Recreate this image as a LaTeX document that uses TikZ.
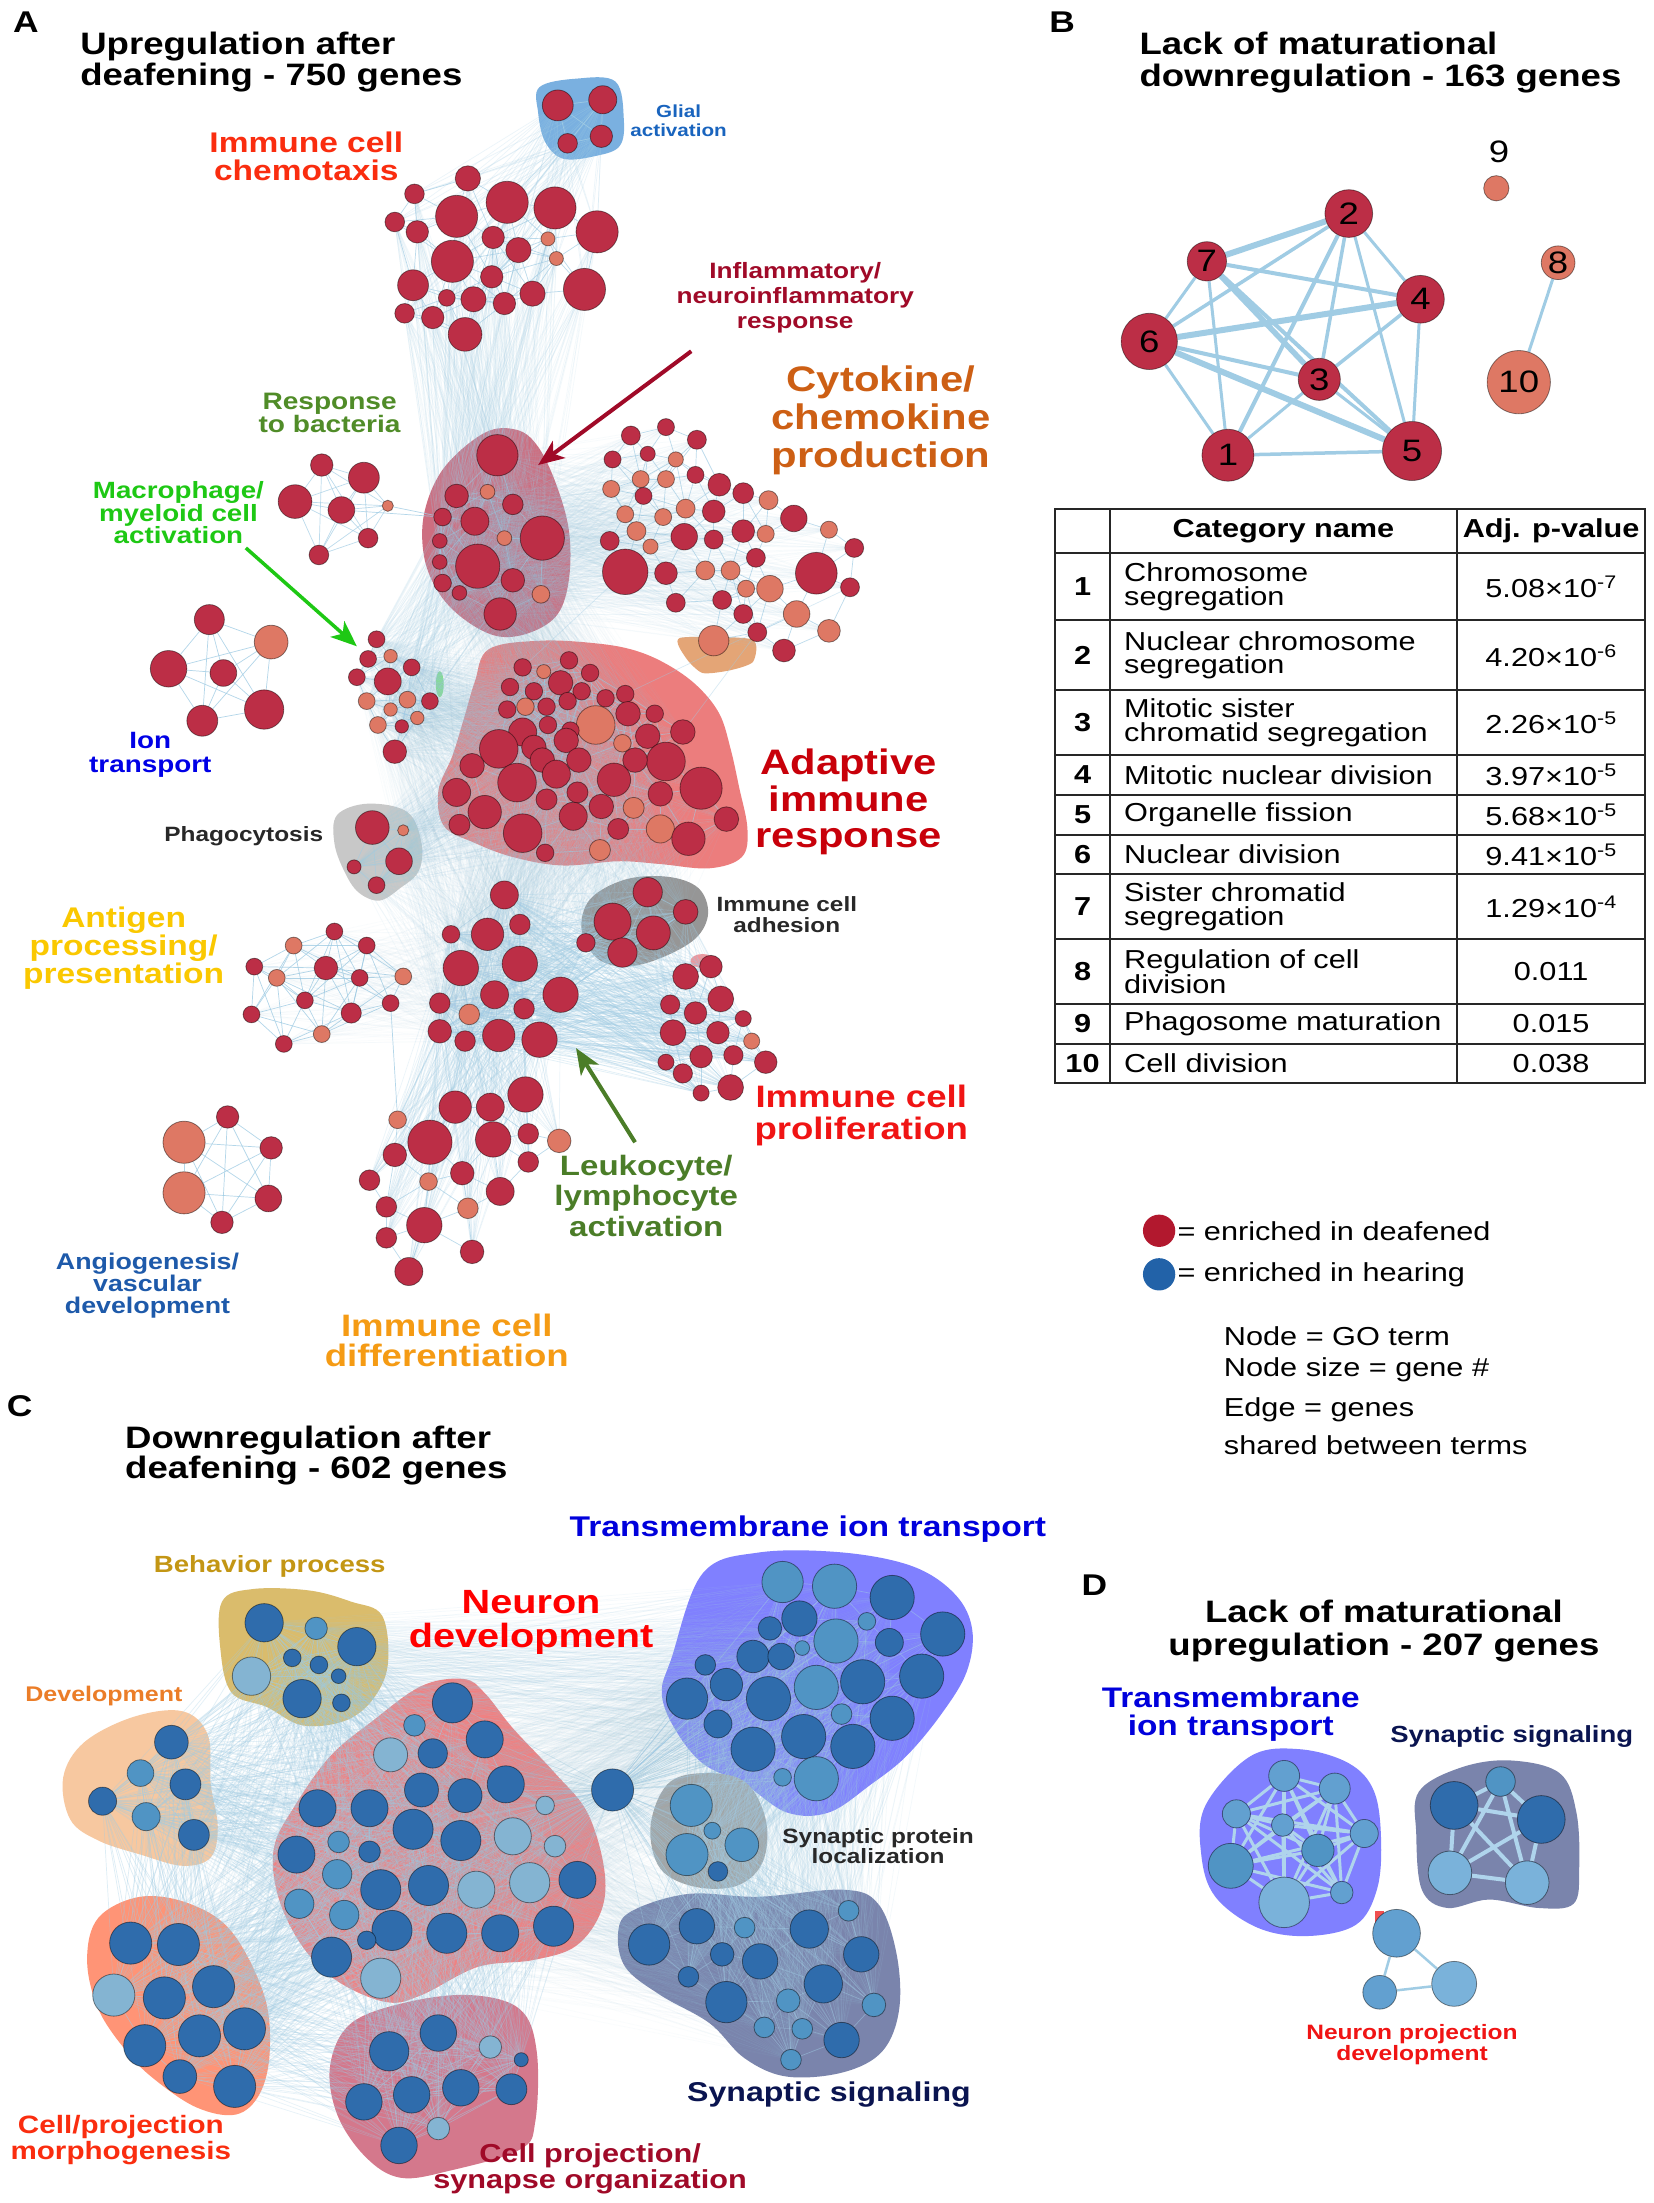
\documentclass[tikz,border=0pt]{standalone}
\usepackage{fontspec}
\setmainfont{Liberation Sans}[FakeStretch=1.18]
\usetikzlibrary{arrows.meta}
\pgfdeclarelayer{blob}
\pgfdeclarelayer{edges}
\pgfsetlayers{blob,edges,main}
% node colours
\definecolor{nR}{RGB}{188,46,70}
\definecolor{nS}{RGB}{222,120,100}
\definecolor{nD}{RGB}{47,108,172}
\definecolor{nM}{RGB}{80,148,196}
\definecolor{nL}{RGB}{132,180,210}
\definecolor{nP}{RGB}{98,160,208}
\definecolor{nQ}{RGB}{122,178,218}
\definecolor{eb}{RGB}{160,204,228}
\definecolor{ebD}{RGB}{175,212,236}
% blob colours
\definecolor{bGlial}{RGB}{122,176,224}
\definecolor{bInfl}{RGB}{205,110,128}
\definecolor{bAdapt}{RGB}{236,125,125}
\definecolor{bPhago}{RGB}{200,200,200}
\definecolor{bAdh}{RGB}{150,150,150}
\definecolor{bCyto}{RGB}{228,165,118}
\definecolor{bMac}{RGB}{130,230,130}
\definecolor{bProl}{RGB}{240,150,155}
\definecolor{bBeh}{RGB}{218,188,108}
\definecolor{bDev}{RGB}{247,200,160}
\definecolor{bNeur}{RGB}{242,128,128}
\definecolor{bMorph}{RGB}{255,148,118}
\definecolor{bSyno}{RGB}{212,120,140}
\definecolor{bTm}{RGB}{128,128,255}
\definecolor{bSp}{RGB}{165,165,165}
\definecolor{bSs}{RGB}{122,132,172}
\definecolor{bRed}{RGB}{240,80,80}
% text colours
\definecolor{tGlial}{RGB}{25,100,190}
\definecolor{tChem}{RGB}{250,45,15}
\definecolor{tInfl}{RGB}{160,10,40}
\definecolor{tCyto}{RGB}{205,95,20}
\definecolor{tBact}{RGB}{80,140,40}
\definecolor{tMac}{RGB}{30,200,20}
\definecolor{tIon}{RGB}{0,0,230}
\definecolor{tAdapt}{RGB}{200,0,10}
\definecolor{tGray}{RGB}{40,40,40}
\definecolor{tAnti}{RGB}{250,200,0}
\definecolor{tProl}{RGB}{240,20,20}
\definecolor{tLeuk}{RGB}{75,125,40}
\definecolor{tAngio}{RGB}{30,90,170}
\definecolor{tDiff}{RGB}{245,155,20}
\definecolor{tTm}{RGB}{0,0,220}
\definecolor{tBeh}{RGB}{195,150,20}
\definecolor{tNeur}{RGB}{255,0,0}
\definecolor{tDev}{RGB}{235,125,40}
\definecolor{tSs}{RGB}{10,20,80}
\definecolor{tNp}{RGB}{240,20,20}
\definecolor{legR}{RGB}{178,24,46}
\definecolor{legB}{RGB}{34,98,168}
\newcommand\fs[2]{\fontsize{#1}{#2}\selectfont}
\tikzset{
  gn/.style={circle, inner sep=0pt, draw=black, draw opacity=0.45, line width=0.8pt},
  ed/.style={draw=eb, line width=0.7pt, opacity=#1}, ed/.default=0.6,
  edD/.style={draw=ebD, line width=#1}, edD/.default=3pt,
  be/.style={draw=eb, line width=#1},
  lab/.style={align=center, inner sep=0pt},
  ttl/.style={anchor=base west, inner sep=0pt, font=\bfseries\fs{31}{30}},
  tl/.style={line width=2pt, draw=black!85},
  tc/.style={inner sep=0pt, font=\fs{26}{23.5}},
  arr/.style={line width=#1, -{Stealth[length=26pt,width=21pt,inset=7pt]}},
}
% cluster of nodes: [radius factor] prefix, list x/y/r/colour
\newcommand\clus[3][1]{\foreach \x/\y/\r/\c [count=\k] in #3 {%
  \node[gn, fill=n\c, minimum size=\r*2.81*#1pt] (#2\k) at (\x,\y) {};
  \expandafter\xdef\csname cnt#2\endcsname{\k}}}
% edges between near nodes of one cluster
\newcommand\meshnear[4]{%
 \foreach \xa/\ya/\ra/\ca [count=\i] in #2 {%
  \foreach \xb/\yb/\rb/\cb [count=\j] in #2 {%
   \ifnum\i<\j\relax
    \pgfmathsetmacro\dd{veclen(\xa-\xb,\ya-\yb)}%
    \ifdim\dd pt<#3pt\relax \draw[#4] (#1\i) -- (#1\j);\fi
   \fi}}}
% edges between all nodes of two clusters
\newcommand\meshbt[3]{%
 \edef\nA{\csname cnt#1\endcsname}\edef\nB{\csname cnt#2\endcsname}%
 \foreach \i in {1,...,\nA}{\foreach \j in {1,...,\nB}{\draw[#3] (#1\i) -- (#2\j);}}}
% ---------------- lists ----------------
\def\Lgl{397/75/11/R,429/71/10/R,404/102/7/R,428/97/8/R}
\def\Lch{333/127/9/R,295/138/7/R,325/154/15/R,361/144/15/R,395/148/15/R,425/165/15/R,281/158/7/R,297/165/8/R,351/169/8/R,390/170/5/S,369/178/9/R,396/184/5/S,322/186/15/R,350/197/8/R,294/203/11/R,318/212/6/R,337/213/9/R,359/216/8/R,379/209/9/R,416/206/15/R,288/223/7/R,308/226/8/R,331/238/12/R}
\def\Lba{229/331/8/R,259/340/11/R,210/357/12/R,243/363/9.5/R,276/360/4/S,262/383/7/R,227/395/7/R}
\def\Lin{354/324/14/R,325/353/8/R,347/350/5/S,365/359/7/R,315/368/6/R,338/371/9.5/R,386/383/15/R,359/383/5/S,313/385/5/R,340/403/15/R,313/400/5/R,315/415/6/R,365/413/8/R,385/423/6/S,327/422/5/R,356/437/11/R}
\def\Lcy{449/310/5/R,474/304/4.5/R,496/313/5/R,436/327/4.5/R,461/323/4/R,481/327/4/S,495/338/4.5/R,456/341/4.5/S,474/341/4.5/S,435/348/4.5/S,458/353/4.5/R,512/345/6/R,529/351/5.5/R,547/356/5/S,488/362/5/S,508/364/6/R,565/369/7/R,445/366/4.5/S,472/368/4.5/S,453/378/5/S,487/382/7/R,508/384/5/R,529/378/6/R,545/380/4.5/S,590/377/4.5/S,608/390/5/R,434/385/5/R,463/389/4/S,538/397/5/R,445/407/12/R,474/408/6/R,502/406/5/S,520/406/5/S,581/408/11/R,548/419/7/S,531/419/4.5/S,605/418/5/R,481/429/5/R,514/427/5/R,529/437/5/R,567/437/7/S,590/449/6/S,539/450/5/R,508/456/8/S,558/463/6/R}
\def\Lma{268/455/5/R,262/469/5/R,278/467/4/S,293/475/5/R,254/482/5/R,276/485/8/R,261/499/5/S,290/498/5/S,306/499/5/R,278/505/4/S,297/511/4/S,269/516/5/S,286/517/4/R,281/535/7/R}
\def\Lio{149/441/10.7/R,193/457/12/S,120/476/13/R,159/479/9.5/R,188/505/14/R,144/513/11/R}
\def\Lad{372/475/5/R,387/478/4/S,405/470/5/R,420/479/5/R,363/489/5/R,380/492/5/R,399/486/7/R,414/492/5/R,431/497/5/R,445/494/5/R,361/505/5/R,374/503/5/S,389/503/5/R,404/499/5/R,447/508/7/R,466/508/5/R,424/516/11/S,372/521/8/R,390/516/5/R,406/520/5/R,486/521/7/R,355/533/11/R,380/532/7/R,403/527/7/R,443/529/5/S,461/524/7/R,474/542/11/R,336/545/7/R,386/541/7/R,412/541/7/R,452/541/7/R,437/555/9.5/R,368/557/11/R,396/551/8/R,325/564/8/R,345/578/9.5/R,411/564/6/R,499/561/12/R,451/575/6/S,470/565/7/R,428/574/7/R,389/569/6/R,408/581/8/R,372/593/11/R,327/587/6/R,388/607/5/R,427/605/6/S,440/590/6/R,470/590/8/S,490/597/9.5/R,517/583/7/R}
\def\Lph{265/589/12/R,287/591/4/S,252/617/5/R,284/613/9.5/R,268/630/6/R}
\def\Lah{461/635/9.5/R,488/649/8/R,436/656/12/R,465/664/11/R,417/671/6/R,443/678/9.5/R}
\def\Lle{359/637/9.5/R,347/665/11/R,370/658/7/R,321/665/6/R,328/689/12/R,370/686/12/R,352/708/9.5/R,399/708/12/R,373/718/7/R,313/714/7/R,334/722/7/S,313/734/8/R,331/741/7/R,355/737/11/R,384/740/12/R}
\def\Lpr{488/695/8/R,506/688/7/R,513/711/8/R,477/715/6/R,495/721/7/R,529/725/5/R,479/735/8/R,511/735/7/R,535/741/5/S,522/751/6/R,499/752/7/R,474/756/5/R,545/756/7/R,486/764/6/R,520/774/8/R,499/778/5/R}
\def\Lan{238/663/5/R,209/673/5/S,261/673/5/R,181/688/5/R,232/689/7/R,197/696/5/S,256/696/5/R,287/695/5/S,217/712/5/R,278/714/5/R,179/722/5/R,250/721/6/R,229/736/5/S,202/743/5/R}
\def\Lag{162/795/8/R,131/813/15/S,193/817/8/R,131/849/15/S,191/853/9.5/R,158/870/8/R}
\def\Ldi{324/788/11/R,349/788/9.5/R,374/779/12/R,283/797/6/S,306/813/15/R,351/811/12/R,376/807/7/R,398/812/8/S,281/822/8/R,376/827/7/R,329/835/8/R,263/840/7/R,305/841/6/S,356/848/9.5/R,275/859/7/R,333/860/7/S,302/872/12/R,275/881/7/R,336/891/8/R,291/905/9.5/R}
% panel C
\def\Lbh{188/1155/13/D,225/1159/7.6/M,254/1172/13/D,179/1193/13/L,208/1180/6/D,227/1185/6/D,241/1193/5/D,215/1209/13/D,243/1212/6/D}
\def\Ldv{122/1240/12/D,100/1262/9.5/M,132/1270/11/D,73/1282/10/D,104/1293/10/M,138/1306/11/D}
\def\Lnd{322/1212/13/D,295/1228/7/M,345/1238/12/D,308/1248/9.5/D,278/1249/11/L,360/1270/12/D,226/1287/12/D,263/1287/12/D,300/1274/11/D,331/1278/11/D,388/1285/6/L,211/1320/12/D,241/1311/7/M,263/1318/7/D,294/1302/13/D,328/1310/13/D,365/1307/12/L,395/1314/7/L,240/1334/9.5/M,271/1345/13/D,305/1342/13/D,339/1345/12/L,377/1340/13/L,411/1338/12/D,213/1355/9.5/M,245/1363/9.5/M,279/1374/13/D,318/1376/13/D,356/1376/12/D,394/1371/13/D,261/1381/6/D,236/1393/13/D,271/1408/13/L}
\def\Lmo{93/1383/15/D,127/1384/15/D,81/1420/15/L,117/1422/15/D,152/1414/15/D,103/1456/15/D,142/1449/15/D,174/1444/15/D,128/1478/12/D,167/1485/15/D}
\def\Lso{277/1460/14/D,312/1447/13/D,349/1457/8/L,371/1466/5/D,259/1496/13/D,293/1491/13/D,328/1486/13/D,364/1487/11/D,312/1515/8/L,284/1527/13/D}
\def\Ltm{557/1126/14/M,594/1129/15/M,635/1137/15/D,671/1163/15/D,569/1152/12/D,548/1159/8/D,617/1154/6/M,595/1168/15/M,633/1169/9.5/D,571/1173/5/M,536/1179/11/D,556/1179/9/D,502/1185/7/D,656/1193/15/D,517/1199/11/D,547/1209/15/D,581/1201/15/M,614/1197/15/D,489/1209/14/D,599/1220/7/M,635/1223/15/D,511/1227/9.5/D,536/1245/15/D,572/1236/15/D,607/1243/15/D,557/1265/6/M,581/1266/15/M}
\def\Llo{436/1274/15/D}
\def\Lsp{492/1285/15/M,507/1303/6/M,489/1320/15/M,528/1313/12/M,511/1332/7/D}
\def\Lss{462/1384/14/D,496/1371/12/D,530/1372/7/M,576/1373/13/D,604/1360/7/M,514/1391/8/D,541/1396/12/D,613/1391/12/D,490/1407/7/D,586/1412/13/D,517/1425/14/D,561/1424/8/M,622/1427/8/M,544/1443/7/M,571/1444/7/M,599/1452/12/D,563/1466/7/M}
% panel D
\def\Ltd{914/1264/11/P,950/1273/11/P,880/1291/10/P,913/1299/8/P,971/1305/10/P,938/1317/11.5/M,876/1328/16/M,914/1354/18/Q,955/1347/8/P}
\def\Lsd{1068/1268/10.5/M,1035/1285/17/D,1097/1295/17/D,1032/1333/15.5/Q,1087/1340/15.5/Q}
\def\Lnp{994/1376/17/P,982/1418/12/P,1035/1412/16/Q}

\begin{document}
\begin{tikzpicture}[x=1.405pt,y=-1.405pt]
\useasboundingbox (0,0) rectangle (1177,1568);
% ---------------- blobs ----------------
\begin{pgfonlayer}{blob}
\fill[white] (0,0) rectangle (1177,1568);
\fill[bGlial] plot[smooth cycle,tension=0.6] coordinates {(384,62) (410,56) (438,58) (444,85) (441,104) (424,111) (401,113) (388,101) (383,80)};
\fill[bInfl] plot[smooth cycle,tension=0.6] coordinates {(345,308) (368,306) (383,318) (396,345) (405,378) (405,412) (397,437) (378,450) (355,453) (332,442) (313,423) (302,397) (302,365) (316,333)};
\fill[bAdapt] plot[smooth cycle,tension=0.6] coordinates {(348,462) (385,456) (425,458) (452,463) (475,473) (496,488) (512,508) (520,533) (526,560) (532,590) (528,610) (505,618) (470,615) (440,613) (400,616) (365,610) (338,600) (316,588) (312,563) (322,538) (330,512) (338,485)};
\fill[bPhago] plot[smooth cycle,tension=0.6] coordinates {(240,580) (262,572) (290,578) (300,600) (298,620) (285,632) (270,641) (255,635) (245,620) (238,600)};
\fill[bAdh] plot[smooth cycle,tension=0.6] coordinates {(420,640) (445,626) (475,624) (497,632) (504,650) (495,668) (470,682) (445,688) (425,682) (414,662)};
\fill[bCyto] plot[smooth cycle,tension=0.4] coordinates {(484,454) (535,455) (536,471) (520,477) (500,479) (488,468)};
\fill[bMac] (313,487) ellipse [x radius=4pt, y radius=13pt];
\fill[bProl] (500,684) ellipse [x radius=12pt, y radius=7pt];
% C
\fill[bBeh] plot[smooth cycle,tension=0.6] coordinates {(158,1140) (180,1131) (220,1132) (250,1140) (272,1150) (276,1185) (265,1210) (245,1225) (215,1228) (190,1215) (165,1205) (157,1175)};
\fill[bDev] plot[smooth cycle,tension=0.6] coordinates {(60,1240) (95,1222) (130,1218) (148,1235) (150,1270) (155,1300) (150,1322) (130,1328) (100,1320) (70,1310) (50,1295) (45,1265)};
\fill[bNeur] plot[smooth cycle,tension=0.6] coordinates {(265,1225) (300,1200) (330,1195) (345,1205) (365,1230) (395,1262) (418,1290) (430,1330) (428,1360) (410,1385) (380,1395) (340,1400) (300,1420) (275,1425) (240,1410) (215,1385) (198,1350) (195,1315) (210,1285) (235,1250)};
\fill[bMorph] plot[smooth cycle,tension=0.6] coordinates {(70,1365) (100,1350) (135,1355) (165,1375) (188,1420) (192,1460) (185,1490) (168,1505) (140,1500) (110,1480) (90,1460) (70,1430) (62,1395)};
\fill[bSyno] plot[smooth cycle,tension=0.6] coordinates {(250,1440) (290,1425) (335,1420) (370,1430) (382,1460) (381,1510) (370,1530) (320,1545) (285,1550) (260,1535) (240,1505) (235,1470)};
\fill[bTm] plot[smooth cycle,tension=0.6] coordinates {(500,1120) (540,1105) (600,1105) (650,1115) (680,1135) (692,1160) (688,1190) (670,1220) (645,1250) (620,1270) (590,1290) (560,1290) (530,1270) (500,1255) (480,1230) (471,1205) (478,1180)};
\fill[bSp] plot[smooth cycle,tension=0.6] coordinates {(475,1270) (500,1262) (530,1268) (545,1295) (543,1325) (525,1342) (495,1343) (470,1330) (463,1300)};
\fill[bSs] plot[smooth cycle,tension=0.6] coordinates {(450,1360) (490,1348) (540,1350) (600,1345) (625,1355) (638,1390) (640,1430) (628,1460) (600,1475) (560,1478) (530,1465) (505,1440) (470,1420) (445,1400) (440,1375)};
% D
\fill[bTm] plot[smooth cycle,tension=0.6] coordinates {(890,1250) (925,1245) (960,1255) (978,1275) (983,1310) (980,1345) (965,1370) (930,1378) (895,1372) (865,1350) (855,1320) (858,1285)};
\fill[bSs] plot[smooth cycle,tension=0.6] coordinates {(1010,1275) (1040,1258) (1075,1253) (1110,1262) (1122,1290) (1124,1330) (1120,1355) (1095,1358) (1060,1352) (1030,1358) (1012,1345) (1008,1305)};
\fill[bRed] (979,1360) rectangle (985,1378);
\end{pgfonlayer}
% ---------------- nodes ----------------
\clus{gl}{\Lgl}\clus{ch}{\Lch}\clus{ba}{\Lba}\clus[1.05]{in}{\Lin}\clus[1.35]{cy}{\Lcy}
\clus[1.2]{ma}{\Lma}\clus{io}{\Lio}\clus[1.25]{ad}{\Lad}\clus{ph}{\Lph}\clus[1.1]{ah}{\Lah}
\clus[1.05]{le}{\Lle}\clus[1.15]{pr}{\Lpr}\clus[1.2]{an}{\Lan}\clus{ag}{\Lag}\clus[1.05]{di}{\Ldi}
\clus[1.05]{bh}{\Lbh}\clus{dv}{\Ldv}\clus[1.1]{nd}{\Lnd}\clus{mo}{\Lmo}\clus{so}{\Lso}
\clus[1.05]{tm}{\Ltm}\clus{lo}{\Llo}\clus{sp}{\Lsp}\clus[1.05]{ss}{\Lss}
\clus{td}{\Ltd}\clus{sd}{\Lsd}\clus{np}{\Lnp}
% panel B nodes
\begin{scope}[every node/.append style={font=\fs{31}{31}}]
\node[gn, fill=nR, minimum size=18.5*2.81pt] (b1) at (874,324) {1};
\node[gn, fill=nR, minimum size=17*2.81pt] (b2) at (960,152) {2};
\node[gn, fill=nR, minimum size=15*2.81pt] (b3) at (939,270) {3};
\node[gn, fill=nR, minimum size=17*2.81pt] (b4) at (1011,213) {4};
\node[gn, fill=nR, minimum size=21*2.81pt] (b5) at (1005,321) {5};
\node[gn, fill=nR, minimum size=20*2.81pt] (b6) at (818,243) {6};
\node[gn, fill=nR, minimum size=14*2.81pt] (b7) at (859,186) {7};
\node[gn, fill=nS, minimum size=12*2.81pt] (b8) at (1109,187) {8};
\node[gn, fill=nS, minimum size=9*2.81pt] (b9) at (1065,134) {};
\node[gn, fill=nS, minimum size=22.5*2.81pt] (b10) at (1081,272) {10};
\node[inner sep=0pt] (b9lab) at (1067,108) {9};
\end{scope}
% ---------------- edges ----------------
\begin{pgfonlayer}{edges}
\meshnear{gl}{\Lgl}{1000}{ed=0.9}
\meshnear{ch}{\Lch}{50}{ed=0.7}
\meshnear{ba}{\Lba}{1000}{ed=0.7}
\meshnear{in}{\Lin}{45}{ed=0.6}
\meshnear{cy}{\Lcy}{36}{ed=0.7}
\meshnear{ma}{\Lma}{30}{ed=0.7}
\meshnear{io}{\Lio}{1000}{ed=0.8}
\meshnear{ad}{\Lad}{40}{ed=0.6}
\meshnear{ph}{\Lph}{1000}{ed=0.6}
\meshnear{ah}{\Lah}{1000}{ed=0.6}
\meshnear{le}{\Lle}{50}{ed=0.6}
\meshnear{pr}{\Lpr}{35}{ed=0.7}
\meshnear{an}{\Lan}{60}{ed=0.8}
\meshnear{ag}{\Lag}{1000}{ed=0.8}
\meshnear{di}{\Ldi}{40}{ed=0.7}
\meshbt{gl}{ch}{ed=0.2}
\meshbt{ch}{in}{ed=0.12}
\meshbt{in}{cy}{ed=0.08}
\meshbt{in}{ma}{ed=0.12}
\meshbt{in}{ad}{ed=0.05}
\meshbt{ma}{ad}{ed=0.08}
\meshbt{ad}{le}{ed=0.07}
\meshbt{ad}{ph}{ed=0.1}
\meshbt{ad}{ah}{ed=0.08}
\meshbt{le}{pr}{ed=0.3}
\meshbt{ah}{le}{ed=0.3}
\meshbt{ah}{pr}{ed=0.2}
\meshbt{le}{di}{ed=0.2}
\meshbt{an}{le}{ed=0.05}
\meshbt{ph}{le}{ed=0.1}
\meshbt{ma}{le}{ed=0.06}
\draw[ed=0.8] (ba5)--(in5); \draw[ed=0.8] (ba4)--(in5);
\draw[ed=0.8] (an10)--(di4);
\draw[ed=0.4] (cy30)--(ad1); \draw[ed=0.4] (cy37)--(ad10); \draw[ed=0.4] (cy43)--(ad21);
% C
\meshnear{bh}{\Lbh}{1000}{ed=0.6}
\meshnear{dv}{\Ldv}{1000}{ed=0.6}
\meshnear{nd}{\Lnd}{45}{ed=0.6}
\meshnear{mo}{\Lmo}{45}{ed=0.6}
\meshnear{so}{\Lso}{1000}{ed=0.5}
\meshnear{tm}{\Ltm}{50}{ed=0.5}
\meshnear{sp}{\Lsp}{1000}{ed=0.6}
\meshnear{ss}{\Lss}{50}{ed=0.5}
\meshbt{bh}{nd}{ed=0.2}
\meshbt{dv}{nd}{ed=0.25}
\meshbt{mo}{nd}{ed=0.22}
\meshbt{mo}{dv}{ed=0.35}
\meshbt{so}{nd}{ed=0.22}
\meshbt{so}{mo}{ed=0.25}
\meshbt{bh}{dv}{ed=0.3}
\meshbt{bh}{mo}{ed=0.15}
\meshbt{lo}{tm}{ed=0.5}
\meshbt{lo}{sp}{ed=0.5}
\meshbt{lo}{ss}{ed=0.4}
\meshbt{lo}{nd}{ed=0.4}
\meshbt{tm}{sp}{ed=0.25}
\meshbt{tm}{ss}{ed=0.12}
\meshbt{sp}{ss}{ed=0.3}
\meshbt{bh}{tm}{ed=0.1}
\meshbt{nd}{ss}{ed=0.05}
\meshbt{nd}{tm}{ed=0.05}
% D
\meshnear{td}{\Ltd}{1000}{edD=3pt}
\meshnear{sd}{\Lsd}{1000}{edD=4pt}
\meshnear{np}{\Lnp}{1000}{be=2.5pt}
% B
\draw[be=6pt] (b7)--(b2); \draw[be=4pt] (b7)--(b4); \draw[be=3pt] (b7)--(b6);
\draw[be=3pt] (b7)--(b1); \draw[be=5.5pt] (b7)--(b3); \draw[be=4pt] (b7)--(b5);
\draw[be=3.5pt] (b2)--(b6); \draw[be=4pt] (b2)--(b1); \draw[be=3.5pt] (b2)--(b3);
\draw[be=3pt] (b2)--(b4); \draw[be=3pt] (b2)--(b5);
\draw[be=6pt] (b4)--(b6); \draw[be=3.5pt] (b4)--(b3); \draw[be=3pt] (b4)--(b5);
\draw[be=4pt] (b6)--(b3); \draw[be=6pt] (b6)--(b5); \draw[be=3pt] (b6)--(b1);
\draw[be=3pt] (b1)--(b3); \draw[be=3.5pt] (b1)--(b5); \draw[be=3pt] (b3)--(b5);
\draw[be=3pt] (b8)--(b10);
\end{pgfonlayer}
% ---------------- titles and letters ----------------
\node[inner sep=0pt, font=\bfseries\fs{30}{30}] (PA) at (18.4,16) {A};
\node[inner sep=0pt, font=\bfseries\fs{30}{30}] (PB) at (756,16) {B};
\node[inner sep=0pt, font=\bfseries\fs{30}{30}] (PC) at (14,1001) {C};
\node[inner sep=0pt, font=\bfseries\fs{30}{30}] (PD) at (779,1128) {D};
\node[ttl] (TA1) at (57,39) {Upregulation after};
\node[ttl] (TA2) at (57,60.5) {deafening - 750 genes};
\node[ttl] (TB1) at (811,39) {Lack of maturational};
\node[ttl] (TB2) at (811,61.7) {downregulation - 163 genes};
\node[ttl] (TC1) at (89,1030.7) {Downregulation after};
\node[ttl] (TC2) at (89,1052) {deafening - 602 genes};
\node[ttl, anchor=base] (TD1) at (985,1155) {Lack of maturational};
\node[ttl, anchor=base] (TD2) at (985,1178) {upregulation - 207 genes};
% ---------------- panel A labels ----------------
\node[lab, text=tGlial, font=\bfseries\fs{17.5}{19.5}] (Lgl) at (483,86) {Glial\\activation};
\node[lab, text=tChem, font=\bfseries\fs{28.4}{28.3}] (Lch) at (218,111.5) {Immune cell\\chemotaxis};
\node[lab, text=tInfl, font=\bfseries\fs{22.2}{25}] (Lin) at (566,212) {Inflammatory/\\neuroinflammatory\\response};
\node[lab, text=tCyto, font=\bfseries\fs{35.5}{38}] (Lcy) at (627,299) {Cytokine/\\chemokine\\production};
\node[lab, text=tBact, font=\bfseries\fs{23.8}{21.7}] (Lba) at (234.6,294) {Response\\to bacteria};
\node[lab, text=tMac, font=\bfseries\fs{23.5}{22.5}] (Lma) at (127,365) {Macrophage/\\myeloid cell\\activation};
\node[lab, text=tIon, font=\bfseries\fs{23.6}{24}] (Lio) at (107,537) {Ion\\transport};
\node[lab, text=tAdapt, font=\bfseries\fs{35.4}{36.5}] (Lad) at (604,571) {Adaptive\\immune\\response};
\node[lab, text=tGray, font=\bfseries\fs{20.7}{21}] (Lph) at (173.5,595) {Phagocytosis};
\node[lab, text=tAnti, font=\bfseries\fs{28.4}{28}] (Lan) at (88,675) {Antigen\\processing/\\presentation};
\node[lab, text=tGray, font=\bfseries\fs{20.6}{21}] (Lah) at (560,651) {Immune cell\\adhesion};
\node[lab, text=tProl, font=\bfseries\fs{31}{32}] (Lpr) at (613,794) {Immune cell\\proliferation};
\node[lab, text=tLeuk, font=\bfseries\fs{28}{30.5}] (Lle) at (460,851) {Leukocyte/\\lymphocyte\\activation};
\node[lab, text=tAngio, font=\bfseries\fs{22.7}{21.8}] (Lag) at (105,915) {Angiogenesis/\\vascular\\development};
\node[lab, text=tDiff, font=\bfseries\fs{31}{29.5}] (Ldi) at (318,954) {Immune cell\\differentiation};
% arrows
\coordinate (aInS) at (492,250); \coordinate (aInE) at (383,331);
\coordinate (aMaS) at (175,390); \coordinate (aMaE) at (254,460);
\coordinate (aLeS) at (452,813); \coordinate (aLeE) at (410,746);
\draw[arr=4pt, draw=tInfl, fill=tInfl] (aInS) -- (aInE);
\draw[arr=3.5pt, draw=tMac, fill=tMac] (aMaS) -- (aMaE);
\draw[arr=4pt, draw=tLeuk, fill=tLeuk] (aLeS) -- (aLeE);
% ---------------- table ----------------
\draw[tl] (751,362) rectangle (1171,771);
\draw[tl] (790,362) -- (790,771);
\draw[tl] (1037,362) -- (1037,771);
\foreach \yy in {393.7,441.4,491.3,537.6,565.6,594.2,622.3,668.6,714.3,742.9} \draw[tl] (751,\yy) -- (1171,\yy);
\node[tc, font=\bfseries\fs{26}{23.5}] (hCat) at (913.5,378) {Category name};
\node[tc, font=\bfseries\fs{26}{23.5}] (hP) at (1104,378) {Adj. p-value};
\foreach \n/\yy/\txt/\pv [count=\k] in {1/417.6/{Chromosome\\segregation}/{5.08×10\textsuperscript{-7}},
  2/466.4/{Nuclear chromosome\\segregation}/{4.20×10\textsuperscript{-6}},
  3/514.5/{Mitotic sister\\chromatid segregation}/{2.26×10\textsuperscript{-5}},
  4/551.6/{Mitotic nuclear division}/{3.97×10\textsuperscript{-5}},
  5/579.9/{Organelle fission}/{5.68×10\textsuperscript{-5}},
  6/608.3/{Nuclear division}/{9.41×10\textsuperscript{-5}},
  7/645.5/{Sister chromatid\\segregation}/{1.29×10\textsuperscript{-4}},
  8/691.5/{Regulation of cell\\division}/{0.011},
  9/728.6/{Phagosome maturation}/{0.015},
  10/757/{Cell division}/{0.038}} {
  \node[tc, font=\bfseries\fs{26}{23.5}] (rn\k) at (770.5,\yy) {\n};
  \node[tc, anchor=west, align=left] (rc\k) at (800,\yy) {\txt};
  \node[tc] (rp\k) at (1104,\yy) {\pv};
}
% ---------------- legend ----------------
\node[circle, inner sep=0pt, fill=legR, minimum size=23*1.405pt] (legr) at (825,876) {};
\node[circle, inner sep=0pt, fill=legB, minimum size=23*1.405pt] (legb) at (825,907) {};
\node[tc, anchor=west] (legrt) at (838,876) {= enriched in deafened};
\node[tc, anchor=west] (legbt) at (838,907) {= enriched in hearing};
\node[tc, anchor=base west] (leg1) at (871,958) {Node = GO term};
\node[tc, anchor=base west] (leg2) at (871,980) {Node size = gene \#};
\node[tc, anchor=base west] (leg3) at (871,1008) {Edge = genes};
\node[tc, anchor=base west] (leg4) at (871,1035.5) {shared between terms};
% ---------------- panel C labels ----------------
\node[lab, text=tTm, font=\bfseries\fs{28.5}{28}] (Ltm) at (575,1088) {Transmembrane ion transport};
\node[lab, text=tBeh, font=\bfseries\fs{23.4}{23}] (Lbh) at (192,1115) {Behavior process};
\node[lab, text=tNeur, font=\bfseries\fs{33.6}{33.7}] (Lnd) at (378,1155) {Neuron\\development};
\node[lab, text=tDev, font=\bfseries\fs{21.2}{21}] (Ldv) at (74,1207) {Development};
\node[lab, text=tGray, font=\bfseries\fs{20.7}{20}] (Lsp) at (625,1314) {Synaptic protein\\localization};
\node[lab, text=tSs, font=\bfseries\fs{27.2}{27}] (Lss) at (590,1491) {Synaptic signaling};
\node[lab, text=tChem, font=\bfseries\fs{25.1}{26}] (Lmo) at (86,1523) {Cell/projection\\morphogenesis};
\node[lab, text=tInfl, font=\bfseries\fs{26}{26.5}] (Lso) at (420,1543.5) {Cell projection/\\synapse organization};
% ---------------- panel D labels ----------------
\node[lab, text=tTm, font=\bfseries\fs{28.3}{28}] (Ltd) at (876,1220) {Transmembrane\\ion transport};
\node[lab, text=tSs, font=\bfseries\fs{23.3}{23}] (Lsd) at (1076,1236) {Synaptic signaling};
\node[lab, text=tNp, font=\bfseries\fs{20.8}{21}] (Lnp) at (1005,1455) {Neuron projection\\development};
\end{tikzpicture}
\end{document}
